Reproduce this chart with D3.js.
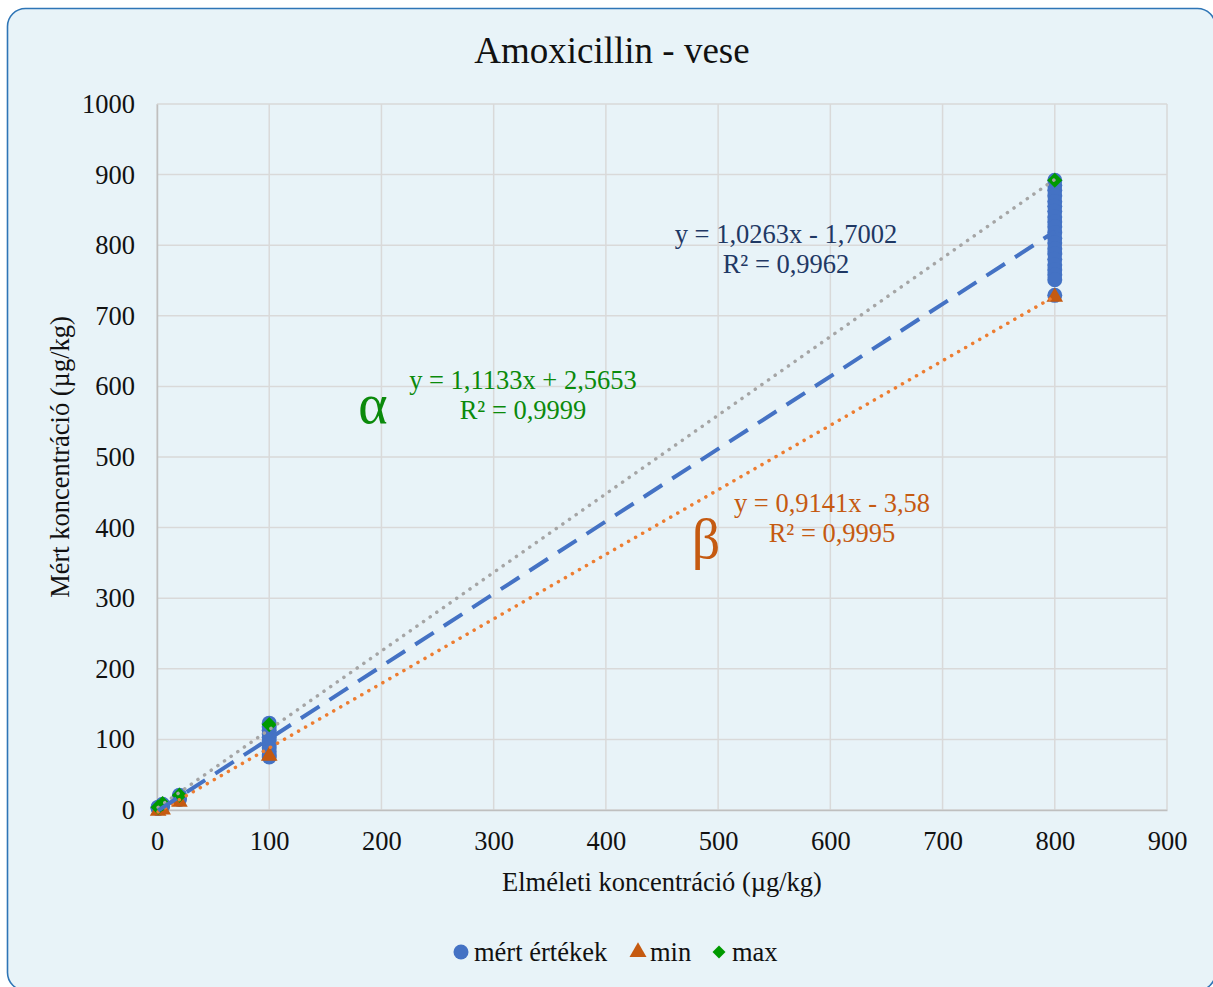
<!DOCTYPE html>
<html>
<head>
<meta charset="utf-8">
<script src="https://cdn.jsdelivr.net/npm/d3@7"></script>
<style>
  html, body { margin: 0; padding: 0; background: #ffffff; }
  svg { display: block; }
  text { font-family: "Liberation Serif", "Times New Roman", serif; }
</style>
</head>
<body>
<svg id="chart" width="1213" height="987"></svg>
<script>
// Theoretical concentrations (µg/kg) and measured values at each level
const measuredX = [1, 1, 1, 5, 5, 5, 20, 20, 20, 20,
  100, 100, 100, 100, 100, 100, 100, 100, 100, 100, 100,
  800, 800, 800, 800, 800, 800, 800, 800, 800, 800, 800, 800, 800, 800, 800, 800, 800, 800, 800, 800, 800];
const measuredY = [2, 3, 4, 5, 7, 8, 15, 17, 19, 21,
  123, 118, 113, 108, 103, 98, 93, 88, 83, 78, 75,
  892, 885, 878, 870, 862, 855, 848, 840, 833, 826, 818, 810, 803, 795, 788, 780, 772, 765, 758, 751, 729];

const levelsX = [1, 5, 20, 100, 800];
const minValues = [0, 2, 13, 78, 728];
const maxValues = [4, 9, 21, 121, 892];

// Linear trendlines: [slope, intercept]
const fitMeasured = [1.0263, -1.7002];
const fitMin = [0.9141, -3.58];
const fitMax = [1.1133, 2.5653];

const eqMeasured = ["y = 1,0263x - 1,7002", "R² = 0,9962"];
const eqMax = ["y = 1,1133x + 2,5653", "R² = 0,9999"];
const eqMin = ["y = 0,9141x - 3,58", "R² = 0,9995"];

const xTicks = [0, 100, 200, 300, 400, 500, 600, 700, 800, 900];
const yTicks = [0, 100, 200, 300, 400, 500, 600, 700, 800, 900, 1000];

const title = "Amoxicillin - vese";
const xTitle = "Elméleti koncentráció (µg/kg)";
const yTitle = "Mért koncentráció (µg/kg)";
const legendLabels = ["mért értékek", "min", "max"];

const colors = {
  measured: "#4472C4",
  min: "#C55A11",
  max: "#009A00",
  maxLine: "#A5A5A5",
  minLine: "#ED7D31",
  eqMeasured: "#1F3864",
  eqMax: "#0B8A0B",
  eqMin: "#C55A11"
};

const FONT = "Liberation Serif";
const textSize = 26.5;

const svg = d3.select("#chart");

// Chart background with rounded border
svg.append("rect")
  .attr("x", 7.5).attr("y", 8.5)
  .attr("width", 1208).attr("height", 982)
  .attr("rx", 18).attr("ry", 18)
  .attr("fill", "#E8F3F8")
  .attr("stroke", "#2E75B6")
  .attr("stroke-width", 1.6);

const plot = { left: 157, right: 1167, top: 104, bottom: 810 };

const x = d3.scaleLinear().domain([0, 900]).range([plot.left, plot.right]);
const y = d3.scaleLinear().domain([0, 1000]).range([plot.bottom, plot.top]);

// Gridlines
const grid = svg.append("g");
grid.selectAll("line.h").data(yTicks).join("line")
  .attr("x1", plot.left).attr("x2", plot.right)
  .attr("y1", d => y(d)).attr("y2", d => y(d))
  .attr("stroke", "#D9D9D9").attr("stroke-width", 1.5);
grid.selectAll("line.v").data(xTicks).join("line")
  .attr("y1", plot.top).attr("y2", plot.bottom)
  .attr("x1", d => x(d)).attr("x2", d => x(d))
  .attr("stroke", "#D9D9D9").attr("stroke-width", 1.5);

// Axes
const xAxis = svg.append("g")
  .attr("transform", `translate(0,${plot.bottom})`)
  .call(d3.axisBottom(x).tickValues(xTicks).tickSize(0).tickPadding(21).tickFormat(d3.format("d")));
xAxis.select(".domain").attr("stroke", "#BFBFBF").attr("stroke-width", 1.5);
xAxis.selectAll("text").attr("font-size", textSize).attr("fill", "#111").attr("font-family", FONT);

const yAxis = svg.append("g")
  .attr("transform", `translate(${plot.left},0)`)
  .call(d3.axisLeft(y).tickValues(yTicks).tickSize(0).tickPadding(22).tickFormat(d3.format("d")));
yAxis.select(".domain").attr("stroke", "#BFBFBF").attr("stroke-width", 1.5);
yAxis.selectAll("text").attr("font-size", textSize).attr("fill", "#111").attr("font-family", FONT);

// Markers
const marks = svg.append("g");
marks.selectAll("circle.m").data(measuredX.map((d, i) => [d, measuredY[i]])).join("circle")
  .attr("cx", d => x(d[0])).attr("cy", d => y(d[1]))
  .attr("r", 7.5)
  .attr("fill", colors.measured);

const tri = d3.symbol().type(d3.symbolTriangle).size(120);
marks.selectAll("path.min").data(levelsX.map((d, i) => [d, minValues[i]])).join("path")
  .attr("d", tri)
  .attr("transform", d => `translate(${x(d[0])},${y(d[1]) + 1})`)
  .attr("fill", colors.min);

const dia = d3.symbol().type(d3.symbolSquare).size(115);
marks.selectAll("path.max").data(levelsX.map((d, i) => [d, maxValues[i]])).join("path")
  .attr("d", dia)
  .attr("transform", d => `translate(${x(d[0])},${y(d[1])}) rotate(45)`)
  .attr("fill", colors.max);

// Trendlines across the data range
const x0 = d3.min(levelsX), x1 = d3.max(levelsX);
const line = d3.line().x(d => x(d[0])).y(d => y(d[1]));
function trend(fit) {
  return [[x0, fit[0] * x0 + fit[1]], [x1, fit[0] * x1 + fit[1]]];
}
const trends = svg.append("g").attr("fill", "none");
trends.append("path").attr("d", line(trend(fitMax)))
  .attr("stroke", colors.maxLine).attr("stroke-width", 3.5)
  .attr("stroke-linecap", "round").attr("stroke-dasharray", "0.1 8");
trends.append("path").attr("d", line(trend(fitMin)))
  .attr("stroke", colors.minLine).attr("stroke-width", 3.5)
  .attr("stroke-linecap", "round").attr("stroke-dasharray", "0.1 8");
trends.append("path").attr("d", line(trend(fitMeasured)))
  .attr("stroke", colors.measured).attr("stroke-width", 4)
  .attr("stroke-dasharray", "22 12");

// Trendline equations
function eqLabel(lines, cx, cy, color) {
  const t = svg.append("text")
    .attr("text-anchor", "middle")
    .attr("font-size", textSize)
    .attr("fill", color);
  lines.forEach((s, i) => {
    t.append("tspan").attr("x", cx).attr("y", cy + i * 30).text(s);
  });
}
eqLabel(eqMeasured, 786, 243, colors.eqMeasured);
eqLabel(eqMax, 523, 389, colors.eqMax);
eqLabel(eqMin, 832, 512, colors.eqMin);

svg.append("text").attr("x", 373).attr("y", 423)
  .attr("text-anchor", "middle").attr("font-size", 56)
  .attr("fill", colors.eqMax).text("α");
svg.append("text").attr("x", 706).attr("y", 558)
  .attr("text-anchor", "middle").attr("font-size", 56)
  .attr("fill", colors.eqMin).text("β");

// Titles
svg.append("text").attr("x", 612).attr("y", 63)
  .attr("text-anchor", "middle").attr("font-size", 37).attr("fill", "#111")
  .text(title);
svg.append("text").attr("x", 662).attr("y", 891)
  .attr("text-anchor", "middle").attr("font-size", textSize).attr("fill", "#111")
  .text(xTitle);
svg.append("text")
  .attr("transform", `translate(69,${(plot.top + plot.bottom) / 2}) rotate(-90)`)
  .attr("text-anchor", "middle").attr("font-size", textSize).attr("fill", "#111")
  .text(yTitle);

// Legend
const legend = svg.append("g").attr("transform", "translate(0,952)");
legend.append("circle").attr("cx", 461).attr("cy", 0).attr("r", 7.5).attr("fill", colors.measured);
legend.append("text").attr("x", 474).attr("y", 9).attr("font-size", textSize).attr("fill", "#111").text(legendLabels[0]);
legend.append("path").attr("d", d3.symbol().type(d3.symbolTriangle).size(125))
  .attr("transform", "translate(638,0)").attr("fill", colors.min);
legend.append("text").attr("x", 650).attr("y", 9).attr("font-size", textSize).attr("fill", "#111").text(legendLabels[1]);
legend.append("path").attr("d", d3.symbol().type(d3.symbolSquare).size(85))
  .attr("transform", "translate(719,0) rotate(45)").attr("fill", colors.max);
legend.append("text").attr("x", 732).attr("y", 9).attr("font-size", textSize).attr("fill", "#111").text(legendLabels[2]);
</script>
</body>
</html>
